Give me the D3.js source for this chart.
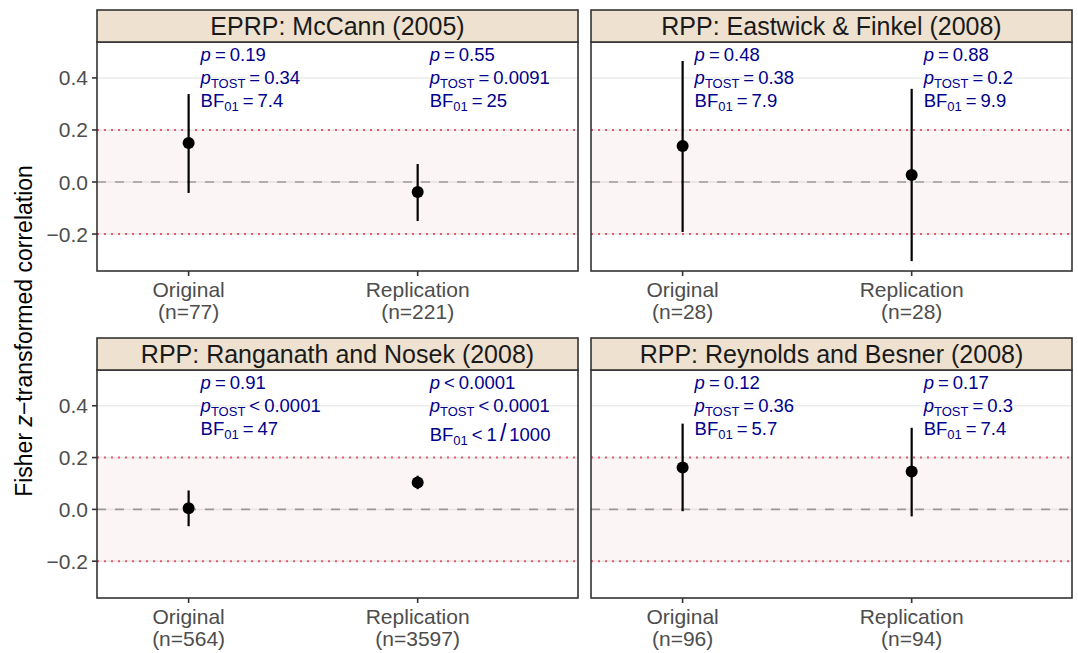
<!DOCTYPE html>
<html lang="en">
<head>
<meta charset="UTF-8">
<title>Fisher z-transformed correlations: original vs replication</title>
<style>
    body { margin: 0; background: #fff; }
    svg text { font-family: "Liberation Sans", Arial, sans-serif; }
</style>
</head>
<body>
<div id="chart"></div>
<script src="https://d3js.org/d3.v7.min.js"></script>
<script>
    // values
    const studies = ["EPRP: McCann (2005)", "RPP: Eastwick & Finkel (2008)",
                     "RPP: Ranganath and Nosek (2008)", "RPP: Reynolds and Besner (2008)"];
    const groups = ["Original", "Replication"];
    const sampleSizes = [[77, 221], [28, 28], [564, 3597], [96, 94]];
    const estimates = [[0.150, -0.038], [0.138, 0.027], [0.004, 0.104], [0.162, 0.146]];
    const lowerCI = [[-0.042, -0.150], [-0.192, -0.304], [-0.065, 0.078], [-0.007, -0.027]];
    const upperCI = [[0.338, 0.069], [0.465, 0.358], [0.073, 0.130], [0.331, 0.315]];
    const pLabels = [["= 0.19", "= 0.55"], ["= 0.48", "= 0.88"], ["= 0.91", "< 0.0001"], ["= 0.12", "= 0.17"]];
    const pTostLabels = [["= 0.34", "= 0.0091"], ["= 0.38", "= 0.2"], ["< 0.0001", "< 0.0001"], ["= 0.36", "= 0.3"]];
    const bfLabels = [["= 7.4", "= 25"], ["= 7.9", "= 9.9"], ["= 47", "< 1/1000"], ["= 5.7", "= 7.4"]];
    const yTicks = [-0.2, 0, 0.2, 0.4];
    const equivMargin = 0.2;

    const W = 1078, H = 653;
    const colX = [[97, 578], [591, 1072]];
    const rowY = [{ strip: 10, top: 42, bottom: 271 }, { strip: 338, top: 370, bottom: 598 }];

    const svg = d3.select("#chart").append("svg")
        .attr("width", W)
        .attr("height", H);

    const annotColor = "#00008B";

    // y axis title
    const yTitle = svg.append("text")
        .attr("transform", "translate(32,331) rotate(-90)")
        .attr("text-anchor", "middle")
        .style("font-size", "23px")
        .attr("fill", "#000");
    yTitle.append("tspan").text("Fisher ");
    yTitle.append("tspan").style("font-style", "italic").text("z");
    yTitle.append("tspan").text("\u2212transformed correlation");

    function addLabel(g, x, y, main, sub, rest, italicMain) {
        const t = g.append("text")
            .attr("x", x).attr("y", y)
            .attr("fill", annotColor)
            .style("font-size", "18.5px");
        t.append("tspan").style("font-style", italicMain ? "italic" : "normal").text(main);
        if (sub) {
            t.append("tspan").attr("dy", 4).style("font-size", "13px").text(sub);
        }
        const rel = rest.slice(0, 1), val = rest.slice(2);
        const relSpan = t.append("tspan").attr("dx", 4).text(rel);
        if (sub) relSpan.attr("dy", -4);
        if (val.includes("/")) {
            const [a, b] = val.split("/");
            t.append("tspan").attr("dx", 4).text(a);
            t.append("tspan").attr("dx", 3).style("font-size", "23px").text("/");
            t.append("tspan").attr("dx", 3).text(b);
        } else {
            t.append("tspan").attr("dx", 4).text(val);
        }
    }

    studies.forEach((study, i) => {
        const col = i % 2, row = Math.floor(i / 2);
        const [x0, x1] = colX[col];
        const r = rowY[row];

        const x = d3.scaleLinear().domain([0.6, 2.7]).range([x0, x1]);
        const y = d3.scaleLinear().domain([-0.342, 0.538]).range([r.bottom, r.top]);

        const g = svg.append("g");

        // panel background + grid
        g.append("rect")
            .attr("x", x0).attr("y", r.top)
            .attr("width", x1 - x0).attr("height", r.bottom - r.top)
            .attr("fill", "#fff");

        g.selectAll(".grid")
            .data(yTicks)
            .join("line")
            .attr("x1", x0).attr("x2", x1)
            .attr("y1", d => y(d)).attr("y2", d => y(d))
            .attr("stroke", "#EBEBEB")
            .attr("stroke-width", 1.5);

        // equivalence region
        g.append("rect")
            .attr("x", x0).attr("y", y(equivMargin))
            .attr("width", x1 - x0).attr("height", y(-equivMargin) - y(equivMargin))
            .attr("fill", "#C83C3C")
            .attr("fill-opacity", 0.05);

        g.selectAll(".margin")
            .data([-equivMargin, equivMargin])
            .join("line")
            .attr("x1", x0).attr("x2", x1)
            .attr("y1", d => y(d)).attr("y2", d => y(d))
            .attr("stroke", "#E35B70")
            .attr("stroke-width", 2)
            .attr("stroke-dasharray", "2,5");

        g.append("line")
            .attr("x1", x0).attr("x2", x1)
            .attr("y1", y(0)).attr("y2", y(0))
            .attr("stroke", "#9A9A9A")
            .attr("stroke-width", 1.6)
            .attr("stroke-dasharray", "9,9");

        // error bars and points
        groups.forEach((grp, j) => {
            const cx = x(j + 1);
            g.append("line")
                .attr("x1", cx).attr("x2", cx)
                .attr("y1", y(lowerCI[i][j])).attr("y2", y(upperCI[i][j]))
                .attr("stroke", "#000")
                .attr("stroke-width", 2.2);
            g.append("circle")
                .attr("cx", cx).attr("cy", y(estimates[i][j]))
                .attr("r", 6)
                .attr("fill", "#000");

            const tx = cx + 12;
            addLabel(g, tx, r.top + 19, "p", null, pLabels[i][j], true);
            addLabel(g, tx, r.top + 42, "p", "TOST", pTostLabels[i][j], true);
            const bfY = bfLabels[i][j].includes("/") ? r.top + 71 : r.top + 65;
            addLabel(g, tx, bfY, "BF", "01", bfLabels[i][j], false);
        });

        // panel border
        g.append("rect")
            .attr("x", x0).attr("y", r.top)
            .attr("width", x1 - x0).attr("height", r.bottom - r.top)
            .attr("fill", "none")
            .attr("stroke", "#333")
            .attr("stroke-width", 1.6);

        // strip
        g.append("rect")
            .attr("x", x0).attr("y", r.strip)
            .attr("width", x1 - x0).attr("height", r.top - r.strip)
            .attr("fill", "#EEE1CF")
            .attr("stroke", "#333")
            .attr("stroke-width", 1.6);
        g.append("text")
            .attr("x", (x0 + x1) / 2)
            .attr("y", (r.strip + r.top) / 2 + 8.8)
            .attr("text-anchor", "middle")
            .attr("fill", "#1A1A1A")
            .style("font-size", "25px")
            .text(study);

        // x axis
        const xa = g.append("g");
        groups.forEach((grp, j) => {
            const cx = x(j + 1);
            xa.append("line")
                .attr("x1", cx).attr("x2", cx)
                .attr("y1", r.bottom).attr("y2", r.bottom + 5)
                .attr("stroke", "#333").attr("stroke-width", 1.6);
            const t = xa.append("text")
                .attr("text-anchor", "middle")
                .attr("fill", "#4D4D4D")
                .style("font-size", "21px");
            t.append("tspan").attr("x", cx).attr("y", r.bottom + 26).text(grp);
            t.append("tspan").attr("x", cx).attr("y", r.bottom + 48).text("(n=" + sampleSizes[i][j] + ")");
        });

        // y axis on left column only
        if (col === 0) {
            const ya = g.append("g");
            yTicks.forEach(v => {
                ya.append("line")
                    .attr("x1", x0 - 5).attr("x2", x0)
                    .attr("y1", y(v)).attr("y2", y(v))
                    .attr("stroke", "#333").attr("stroke-width", 1.6);
                ya.append("text")
                    .attr("x", x0 - 9)
                    .attr("y", y(v) + 7.5)
                    .attr("text-anchor", "end")
                    .attr("fill", "#4D4D4D")
                    .style("font-size", "21px")
                    .text(v.toFixed(1).replace("-", "\u2212"));
            });
        }
    });
</script>
</body>
</html>
